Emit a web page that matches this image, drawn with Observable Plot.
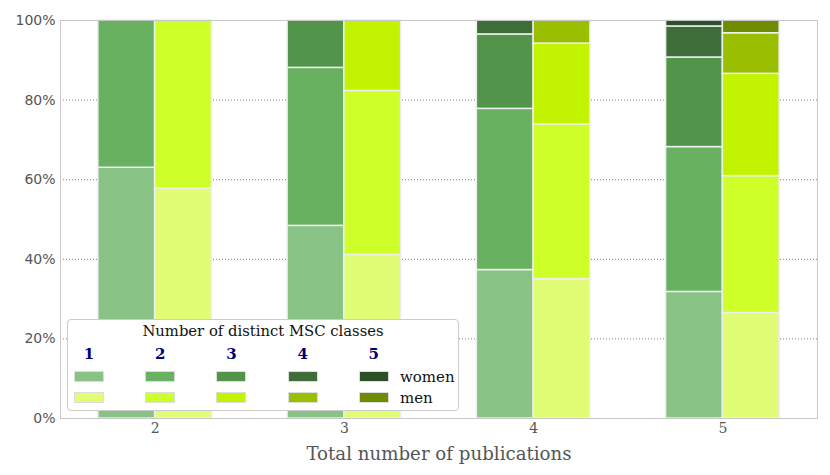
<!DOCTYPE html>
<html>
<head>
<meta charset="utf-8">
<script src="https://cdn.jsdelivr.net/npm/d3@7"></script>
<script src="https://cdn.jsdelivr.net/npm/@observablehq/plot@0.6"></script>
<style>
  body { margin: 0; background: #fff; }
  #wrap { position: relative; width: 830px; height: 475px; }
  #legend { position: absolute; left: 67px; top: 319px; width: 392px; height: 92px; box-sizing: border-box;
    border: 1px solid #cccccc; border-radius: 4px; background: #fff; font-family: "DejaVu Serif", serif; color: #111; }
  #legend .title { position: absolute; left: 0; width: 100%; top: 2px; text-align: center; font-size: 14.8px; line-height: 18px; }
  #legend .num { position: absolute; width: 20px; margin-left: -10px; text-align: center; font-size: 15px; font-weight: bold; color: #00007a; line-height: 16px; top: 26px; }
  #legend .sw { position: absolute; width: 28px; height: 9px; border: 1px solid #dddddd; }
  #legend .lab { position: absolute; left: 332px; font-size: 15px; line-height: 16px; }
</style>
</head>
<body>
<div id="wrap"></div>
<script>
// Data
const publications = [2, 3, 4, 5];
const mscClasses = [1, 2, 3, 4, 5];
const sexes = ["women", "men"];
// share (%) of each MSC-class count, per publication group (rows) and class (columns)
const womenShares = [
  [63.0, 37.0, 0, 0, 0],
  [48.4, 39.7, 11.9, 0, 0],
  [37.3, 40.5, 18.7, 3.5, 0],
  [31.8, 36.4, 22.5, 7.8, 1.5]
];
const menShares = [
  [57.8, 42.2, 0, 0, 0],
  [41.1, 41.2, 17.7, 0, 0],
  [35.0, 38.9, 20.3, 5.8, 0],
  [26.5, 34.4, 25.7, 10.2, 3.2]
];
const womenColors = ["#88c285", "#68b160", "#52944a", "#3d6e3a", "#2d5029"];
const menColors = ["#e0fd75", "#cfff28", "#c2f300", "#99bf00", "#6f8b00"];
const yTicks = [0, 20, 40, 60, 80, 100];

// Build rows with cumulative stacking
const barWidth = 0.3;
const rows = [];
publications.forEach((p, i) => {
  sexes.forEach((s) => {
    const shares = s === "women" ? womenShares[i] : menShares[i];
    const colors = s === "women" ? womenColors : menColors;
    let acc = 0;
    shares.forEach((v, k) => {
      if (v > 0) {
        rows.push({pub: p, sex: s, cls: mscClasses[k], y1: acc, y2: acc + v, color: colors[k]});
      }
      acc += v;
    });
  });
});

const chart = Plot.plot({
  width: 830,
  height: 475,
  marginTop: 20,
  marginBottom: 57,
  marginLeft: 60,
  marginRight: 13,
  x: {domain: [1.5, 5.5]},
  y: {domain: [0, 100]},
  color: {type: "identity"},
  marks: [
    Plot.gridY([20, 40, 60, 80], {stroke: "#808080", strokeOpacity: 1, strokeDasharray: "1,2"}),
    Plot.rectY(rows, {
      x1: d => d.sex === "women" ? d.pub - barWidth : d.pub,
      x2: d => d.sex === "women" ? d.pub : d.pub + barWidth,
      y1: "y1", y2: "y2",
      fill: "color",
      stroke: "#eeeeee", strokeWidth: 1.5
    }),
    Plot.frame({stroke: "#c8c8c8"}),
    Plot.axisY({ticks: yTicks, tickFormat: d => d + "%", tickSize: 0, tickPadding: 5,
      fontFamily: "DejaVu Sans", fontSize: 14, fill: "#555", label: null}),
    Plot.axisX({ticks: publications, tickSize: 0, tickPadding: 5, tickFormat: d => String(d),
      fontFamily: "DejaVu Serif", fontSize: 14, fill: "#555", label: null}),
    Plot.text(["Total number of publications"], {frameAnchor: "bottom", dy: 35.5, lineAnchor: "middle",
      fontFamily: "DejaVu Serif", fontSize: 18.2, fill: "#555"})
  ]
});

const wrap = document.getElementById("wrap");
wrap.appendChild(chart);

// Legend
const lg = document.createElement("div");
lg.id = "legend";
const t = document.createElement("div");
t.className = "title";
t.textContent = "Number of distinct MSC classes";
lg.appendChild(t);
mscClasses.forEach((c, k) => {
  const x0 = 6 + k * 71.2;
  const n = document.createElement("div");
  n.className = "num";
  n.style.left = (x0 + 15) + "px";
  n.textContent = c;
  lg.appendChild(n);
  [[womenColors, 50.5], [menColors, 72]].forEach(([cols, top]) => {
    const sw = document.createElement("div");
    sw.className = "sw";
    sw.style.left = x0 + "px";
    sw.style.top = top + "px";
    sw.style.background = cols[k];
    lg.appendChild(sw);
  });
});
[["women", 48.5], ["men", 69.5]].forEach(([s, top]) => {
  const l = document.createElement("div");
  l.className = "lab";
  l.style.top = top + "px";
  l.textContent = s;
  lg.appendChild(l);
});
wrap.appendChild(lg);
</script>
</body>
</html>
